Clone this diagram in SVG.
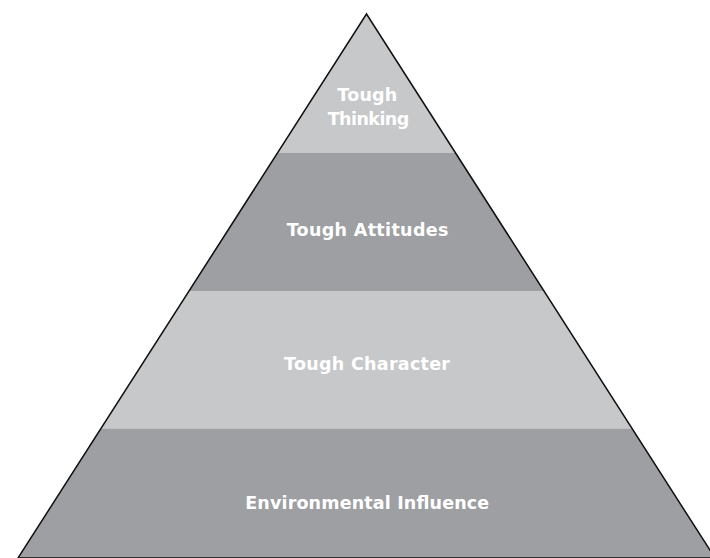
<svg xmlns="http://www.w3.org/2000/svg" width="710" height="558" viewBox="0 0 710 558">
  <defs>
    <style>
      .light { fill: #c7c8ca; }
      .dark { fill: #9e9fa2; }
      .outline { fill: none; stroke: #111111; stroke-width: 1.5; stroke-linejoin: miter; }
      .label { fill: #ffffff; font-family: "DejaVu Sans", "Open Sans", "Liberation Sans", sans-serif; font-weight: bold; font-size: 17.5px; text-anchor: middle; }
    </style>
  </defs>
  <rect x="0" y="0" width="710" height="558" fill="#ffffff"/>
  <g id="tough-thinking">
    <polygon class="light" points="366.5,14 276.8,153 456.2,153"/>
    <text class="label" x="367.3" y="100.5" textLength="60">Tough</text>
    <text class="label" x="368.5" y="125" textLength="81.6">Thinking</text>
  </g>
  <g id="tough-attitudes">
    <polygon class="dark" points="276.8,153 456.2,153 544.7,291 188.3,291"/>
    <text class="label" x="367.5" y="235.5" textLength="161.7">Tough Attitudes</text>
  </g>
  <g id="tough-character">
    <polygon class="light" points="188.3,291 544.7,291 632.8,428.5 100.2,428.5"/>
    <text class="label" x="367" y="370" textLength="166">Tough Character</text>
  </g>
  <g id="environmental-influence">
    <polygon class="dark" points="100.2,428.5 632.8,428.5 715,558 18,558"/>
    <text class="label" x="367.2" y="508.5" textLength="244">Environmental Influence</text>
  </g>
  <g id="pyramid-outline">
    <polygon class="outline" points="366.5,14 715,558 18,558"/>
  </g>
</svg>
